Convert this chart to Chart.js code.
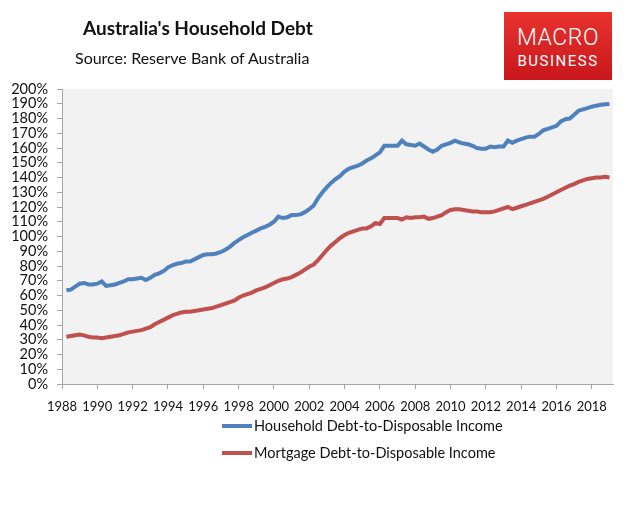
<!DOCTYPE html>
<html>
<head>
<meta charset="utf-8">
<script src="https://cdn.jsdelivr.net/npm/chart.js@4.4.1/dist/chart.umd.min.js"></script>
<style>
   body { margin: 0; background: #ffffff; font-family: Lato, "Liberation Sans", sans-serif; }
   #frame { position: relative; width: 640px; height: 509px; overflow: hidden; }
   #chartCanvas { position: absolute; left: 0; top: 0; }
   .title { position: absolute; left: 83px; top: 16px; font-size: 19px; font-weight: bold; color: #111111; }
   .source { position: absolute; left: 75px; top: 48px; font-size: 16px; color: #111111; }
   .logo
   {
      position: absolute; left: 504px; top: 12px; width: 108px; height: 68px;
      background: linear-gradient(#e8332e, #c8161c); color: #ffffff; text-align: center;
      font-family: Roboto, Lato, sans-serif;
   }
   .logo .macro { position: absolute; left: 0; right: 0; top: 12px; font-size: 23px; font-weight: 300; letter-spacing: 0.5px; }
   .logo .business { position: absolute; left: 0; right: 0; top: 40px; font-size: 15px; letter-spacing: 1.5px; }
   #legend { position: absolute; left: 222px; top: 412px; font-size: 14.5px; color: #111111; }
   .legendRow { height: 27px; display: flex; align-items: center; }
   .legendLine { width: 30px; height: 4px; margin-right: 2px; }
</style>
</head>
<body>
<div id="frame">
   <canvas id="chartCanvas" width="640" height="509"></canvas>
   <div class="title">Australia's Household Debt</div>
   <div class="source">Source: Reserve Bank of Australia</div>
   <div class="logo"><div class="macro">MACRO</div><div class="business">BUSINESS</div></div>
   <div id="legend"></div>
</div>
<script>
// quarterly observations, March 1988 .. December 2018
const firstYear = 1988;
const lastYear = 2018;

const seriesLabels = ["Household Debt-to-Disposable Income", "Mortgage Debt-to-Disposable Income"];
const seriesColors = ["#4f81bd", "#c0504d"];

const household = [
   63.5, 64, 66, 68,
   68.5, 67.5, 67.5, 68,
   69.5, 66.5, 67, 67.5,
   68.5, 69.5, 71, 71,
   71.5, 72, 70.5, 72,
   74, 75, 76.5, 79,
   80.5, 81.5, 82, 83,
   83, 84.5, 86, 87.5,
   88, 88, 88.5, 89.5,
   91, 93, 95.5, 97.5,
   99.5, 101, 102.5, 104,
   105.5, 106.5, 108, 110,
   113.5, 112.5, 113, 114.5,
   114.5, 115, 116.5, 118.5,
   121, 126, 130, 133.5,
   136.5, 139, 141, 144,
   146, 147, 148, 149.5,
   151.5, 153, 155, 157,
   161.5, 161.5, 161.5, 161.5,
   165, 162.5, 162, 161.5,
   163, 161, 159, 157.5,
   159, 161.5, 162.5, 163.5,
   165, 163.8, 163, 162.5,
   161.5, 160, 159.5, 159.5,
   161, 160.5, 161, 161,
   165, 163.5, 165, 166,
   167, 167.7, 167.7, 169.5,
   172, 173, 174, 175,
   178, 179.5, 180, 182.5,
   185.3, 186.2, 187, 188,
   188.7, 189.3, 189.6, 189.8
];

const mortgage = [
   32, 32.5, 33, 33.5,
   33, 32, 31.5, 31.5,
   31, 31.5, 32, 32.5,
   33, 34, 35, 35.5,
   36, 36.5, 37.5, 38.5,
   40.5, 42, 43.5, 45,
   46.5, 47.5, 48.5, 49,
   49, 49.5, 50, 50.5,
   51, 51.5, 52.5, 53.5,
   54.5, 55.5, 56.5, 58.5,
   60, 61, 62, 63.5,
   64.5, 65.5, 67, 68.5,
   70, 71, 71.5, 72.5,
   74, 75.5, 77.5, 79.5,
   81, 84, 87.5, 91,
   94, 96.5, 99, 101,
   102.5, 103.5, 104.5, 105.5,
   105.5, 107, 109, 108.5,
   112.5, 112.5, 112.5, 112.5,
   111.5, 113, 112.5, 113,
   113, 113.5, 112, 112.5,
   113.5, 114.5, 116.5, 118,
   118.5, 118.5, 118, 117.5,
   117, 117, 116.5, 116.5,
   116.5, 117, 118, 119,
   120, 118.5, 119.5, 120.5,
   121.5, 122.5, 123.5, 124.5,
   125.5, 127, 128.5, 130,
   131.5, 133, 134.5, 135.5,
   137, 138, 139, 139.5,
   140, 140, 140.5, 140
];

function buildQuarters()
{
   const quarters = [];
   for (let year = firstYear; year <= lastYear; year++)
   {
      for (let q = 1; q <= 4; q++)
      {
         quarters.push(year + q * 0.25);
      }
   }
   return quarters;
}

const quarters = buildQuarters();

function toPoints(values)
{
   return values.map(function(value, index)
   {
      return { x: quarters[index], y: value };
   });
}

function fixWidth(width)
{
   return function(scale)
   {
      scale.width = width;
   };
}

function fixHeight(height)
{
   return function(scale)
   {
      scale.height = height;
   };
}

const fontFamily = "Lato, 'Liberation Sans', sans-serif";

const ctx = document.getElementById("chartCanvas").getContext("2d");

const plotBackground = {
   id: "plotBackground",
   beforeDraw: function(chart)
   {
      const area = chart.chartArea;
      chart.ctx.save();
      chart.ctx.fillStyle = "#f2f2f2";
      chart.ctx.fillRect(area.left, area.top, area.right - area.left, area.bottom - area.top);
      chart.ctx.restore();
   }
};

const chart = new Chart(ctx,
{
   type: "line",
   data:
   {
      datasets: [
         {
            label: seriesLabels[0],
            data: toPoints(household),
            borderColor: seriesColors[0],
            backgroundColor: seriesColors[0],
            borderWidth: 4,
            pointRadius: 0,
            tension: 0
         },
         {
            label: seriesLabels[1],
            data: toPoints(mortgage),
            borderColor: seriesColors[1],
            backgroundColor: seriesColors[1],
            borderWidth: 4,
            pointRadius: 0,
            tension: 0
         }
      ]
   },
   options:
   {
      responsive: false,
      animation: false,
      layout: { padding: { left: 0, right: 27, top: 89, bottom: 0 } },
      plugins:
      {
         legend: { display: false },
         tooltip: { enabled: false }
      },
      scales:
      {
         x:
         {
            type: "linear",
            min: 1988,
            max: 2019.2,
            afterFit: fixHeight(509 - 384),
            border: { display: true, color: "#a6a6a6", width: 1 },
            grid: { display: true, drawOnChartArea: false, drawTicks: true, tickLength: 5, color: "#a6a6a6" },
            ticks:
            {
               stepSize: 2,
               includeBounds: false,
               maxRotation: 0,
               autoSkip: false,
               padding: 10,
               color: "#111111",
               font: { family: fontFamily, size: 13 },
               callback: function(value)
               {
                  return String(value);
               }
            }
         },
         y:
         {
            min: 0,
            max: 200,
            afterFit: fixWidth(62),
            border: { display: true, color: "#a6a6a6", width: 1 },
            grid: { display: true, drawOnChartArea: false, drawTicks: true, tickLength: 5, color: "#a6a6a6" },
            ticks:
            {
               stepSize: 10,
               autoSkip: false,
               padding: 9,
               color: "#111111",
               font: { family: fontFamily, size: 14.5 },
               callback: function(value)
               {
                  return value + "%";
               }
            }
         }
      }
   },
   plugins: [plotBackground]
});

function buildLegend()
{
   const legend = document.getElementById("legend");
   chart.data.datasets.forEach(function(dataset)
   {
      const row = document.createElement("div");
      row.className = "legendRow";
      const line = document.createElement("span");
      line.className = "legendLine";
      line.style.background = dataset.borderColor;
      const text = document.createElement("span");
      text.textContent = dataset.label;
      row.appendChild(line);
      row.appendChild(text);
      legend.appendChild(row);
   });
}

buildLegend();
</script>
</body>
</html>
